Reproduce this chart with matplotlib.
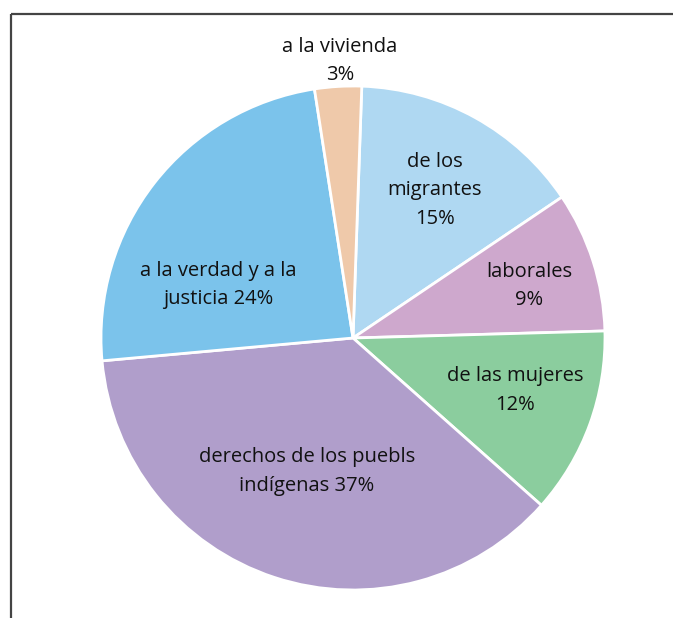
import numpy as np
import matplotlib
matplotlib.use("Agg")
import matplotlib.pyplot as plt

# data, clockwise from the top
labels = ["de los\nmigrantes\n15%", "laborales\n9%", "de las mujeres\n12%",
          "derechos de los puebls\nindígenas 37%", "a la verdad y a la\njusticia 24%",
          "a la vivienda\n3%"]
values = [15, 9, 12, 37, 24, 3]
colors = ["#afd8f2", "#cea8cd", "#8bcd9e", "#b09ecb", "#7bc3eb", "#efc9aa"]

# label placement: (radius fraction, angle in deg)
label_pos = [(0.67, 61), (0.73, 16.5), (0.675, -18), (0.56, -109), (0.575, 158.5), (1.10, 92.7)]

W, H = 673, 618
fig = plt.figure(figsize=(W / 100, H / 100), dpi=100)
ax = fig.add_axes([0, 0, 1, 1])

cx, cy, r = 353, H - 338, 252
wedges, _ = ax.pie(values, colors=colors, startangle=88, counterclock=False,
                   center=(cx, cy), radius=r, frame=True,
                   wedgeprops=dict(edgecolor="white", linewidth=2.0))
ax.set_xlim(0, W)
ax.set_ylim(0, H)
ax.set_aspect("equal")
ax.set_axis_off()

for lab, (d, a) in zip(labels, label_pos):
    t = np.deg2rad(a)
    ax.text(cx + d * r * np.cos(t), cy + d * r * np.sin(t), lab,
            ha="center", va="center", fontsize=14.5, family="Open Sans",
            color="#111111", linespacing=1.55)

# frame: top and left lines
ax.plot([11, W], [H - 14, H - 14], color="#444444", lw=1.6, solid_capstyle="butt")
ax.plot([11, 11], [0, H - 14], color="#444444", lw=1.6, solid_capstyle="butt")

fig.savefig("out.png", dpi=100)
